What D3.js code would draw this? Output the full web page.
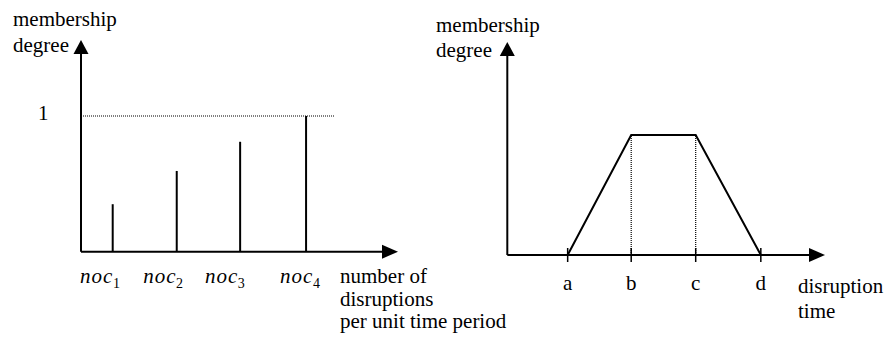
<!DOCTYPE html>
<html>
<head>
<meta charset="utf-8">
<script src="https://cdn.jsdelivr.net/npm/d3@7"></script>
<style>
  body { margin: 0; background: #fff; }
  svg { display: block; }
  text { font-family: "Liberation Serif", "Times New Roman", serif; font-size: 21px; fill: #000; }
</style>
</head>
<body>
<div id="chart"></div>
<script>
// left panel: discrete membership of number of disruptions
var nocNames = ['1', '2', '3', '4'];
var nocX = [10, 30.2, 50.2, 71];          // position along the x axis (0-100)
var nocDegree = [0.35, 0.595, 0.81, 1];   // membership degree
var nocLabelX = [-0.3, 19.6, 39.1, 62.8]; // where each label starts

// right panel: trapezoidal membership of disruption time
var trapNames = ['a', 'b', 'c', 'd'];
var trapX = [19, 39, 59.3, 79.8];
var trapDegree = [0, 1, 1, 0];

var width = 890;
var height = 343;

var svg = d3.select('#chart').append('svg')
	.attr('width', width)
	.attr('height', height);

function arrowUp(g, x, y) {
	g.append('path')
		.attr('d', 'M' + x + ',' + y + 'L' + (x - 7.5) + ',' + (y + 14) + 'L' + (x + 7.5) + ',' + (y + 14) + 'Z')
		.attr('fill', '#000');
}
function arrowRight(g, x, y) {
	g.append('path')
		.attr('d', 'M' + x + ',' + y + 'L' + (x - 16) + ',' + (y - 7) + 'L' + (x - 16) + ',' + (y + 7) + 'Z')
		.attr('fill', '#000');
}

// ---------- left panel ----------
var gl = svg.append('g');
var xL = d3.scaleLinear().domain([0, 100]).range([81, 398]);
var yL = d3.scaleLinear().domain([0, 1]).range([251.7, 116]);

// dotted line at degree 1
gl.append('line')
	.attr('x1', xL(0)).attr('x2', xL(80))
	.attr('y1', yL(1)).attr('y2', yL(1))
	.attr('stroke', '#000')
	.attr('stroke-width', 1.2)
	.attr('stroke-dasharray', '1,1');

// axes
gl.append('line')
	.attr('x1', xL(0)).attr('x2', xL(100) - 10)
	.attr('y1', yL(0)).attr('y2', yL(0))
	.attr('stroke', '#000').attr('stroke-width', 2);
gl.append('line')
	.attr('x1', xL(0)).attr('x2', xL(0))
	.attr('y1', yL(0)).attr('y2', yL(1.56) + 10)
	.attr('stroke', '#000').attr('stroke-width', 2);
arrowUp(gl, xL(0), yL(1.56));
arrowRight(gl, xL(100), yL(0));

// stems
gl.selectAll('.stem')
	.data(nocX)
	.enter()
	.append('line')
	.attr('class', 'stem')
	.attr('x1', function(d) { return xL(d); })
	.attr('x2', function(d) { return xL(d); })
	.attr('y1', yL(0))
	.attr('y2', function(d, i) { return yL(nocDegree[i]); })
	.attr('stroke', '#000')
	.attr('stroke-width', 2);

// noc labels
var lab = gl.selectAll('.noc')
	.data(nocNames)
	.enter()
	.append('text')
	.attr('class', 'noc')
	.attr('x', function(d, i) { return xL(nocLabelX[i]); })
	.attr('y', 283);
lab.append('tspan')
	.style('font-style', 'italic')
	.style('letter-spacing', '1px')
	.text('noc');
lab.append('tspan')
	.attr('dx', -0.5)
	.attr('dy', 5)
	.style('font-size', '14px')
	.text(function(d) { return d; });

gl.append('text').attr('x', 38).attr('y', 120).text('1');

gl.append('text').attr('x', 13).attr('y', 26).text('membership');
gl.append('text').attr('x', 13).attr('y', 51.7).text('degree');

gl.append('text').attr('x', 340).attr('y', 283).text('number of');
gl.append('text').attr('x', 340).attr('y', 305.5).text('disruptions');
gl.append('text').attr('x', 340).attr('y', 328).text('per unit time period');

// ---------- right panel ----------
var gr = svg.append('g');
var xR = d3.scaleLinear().domain([0, 100]).range([507.3, 825]);
var yR = d3.scaleLinear().domain([0, 1]).range([255, 135]);

// dotted verticals at b and c
gr.selectAll('.guide')
	.data([1, 2])
	.enter()
	.append('line')
	.attr('class', 'guide')
	.attr('x1', function(i) { return xR(trapX[i]); })
	.attr('x2', function(i) { return xR(trapX[i]); })
	.attr('y1', yR(0))
	.attr('y2', function(i) { return yR(trapDegree[i]); })
	.attr('stroke', '#000')
	.attr('stroke-width', 1.2)
	.attr('stroke-dasharray', '1,1');

gr.append('line')
	.attr('x1', xR(0)).attr('x2', xR(100) - 10)
	.attr('y1', yR(0)).attr('y2', yR(0))
	.attr('stroke', '#000').attr('stroke-width', 2);
gr.append('line')
	.attr('x1', xR(0)).attr('x2', xR(0))
	.attr('y1', yR(0)).attr('y2', yR(1.775) + 10)
	.attr('stroke', '#000').attr('stroke-width', 2);
arrowUp(gr, xR(0), yR(1.775));
arrowRight(gr, xR(100), yR(0));

// tick marks
gr.selectAll('.tick')
	.data(trapX)
	.enter()
	.append('line')
	.attr('class', 'tick')
	.attr('x1', function(d) { return xR(d); })
	.attr('x2', function(d) { return xR(d); })
	.attr('y1', yR(0) - 7)
	.attr('y2', yR(0) + 7)
	.attr('stroke', '#000')
	.attr('stroke-width', 1.5);

var line = d3.line()
	.x(function(d, i) { return xR(trapX[i]); })
	.y(function(d) { return yR(d); });

gr.append('path')
	.attr('d', line(trapDegree))
	.attr('fill', 'none')
	.attr('stroke', '#000')
	.attr('stroke-width', 2);

gr.selectAll('.tlab')
	.data(trapNames)
	.enter()
	.append('text')
	.attr('class', 'tlab')
	.attr('x', function(d, i) { return xR(trapX[i]); })
	.attr('y', 290)
	.attr('text-anchor', 'middle')
	.text(function(d) { return d; });

gr.append('text').attr('x', 436).attr('y', 31.7).text('membership');
gr.append('text').attr('x', 436).attr('y', 57).text('degree');

gr.append('text').attr('x', 798).attr('y', 293).text('disruption');
gr.append('text').attr('x', 798).attr('y', 318).text('time');
</script>
</body>
</html>
